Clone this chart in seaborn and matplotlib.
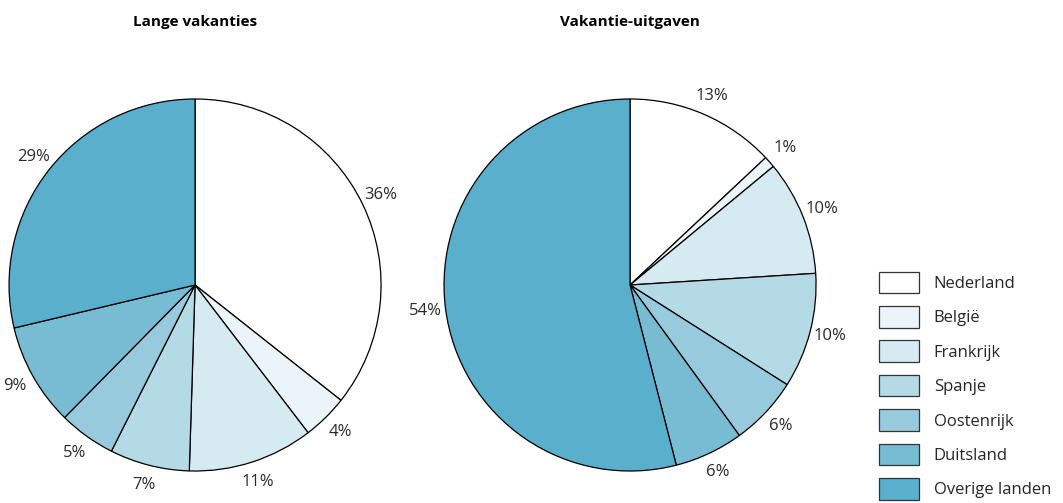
import matplotlib
matplotlib.use("Agg")
import matplotlib.pyplot as plt
import matplotlib.patches as mpatches
import seaborn as sns

landen = ["Nederland", "België", "Frankrijk", "Spanje", "Oostenrijk", "Duitsland", "Overige landen"]
lange_vakanties = [36, 4, 11, 7, 5, 9, 29]
vakantie_uitgaven = [13, 1, 10, 10, 6, 6, 54]
kleuren = ["#ffffff", "#eaf4f9", "#d6eaf1", "#b4dae5", "#98cadd", "#77bcd3", "#5aafcc"]

sns.set_theme(style="white")
plt.rcParams["font.family"] = ["Open Sans", "DejaVu Sans"]

fig = plt.figure(figsize=(10.63, 5.03), dpi=100)


def taart(ax, waarden):
    wedges, texts = ax.pie(
        waarden,
        labels=[f"{v}%" for v in waarden],
        colors=kleuren,
        startangle=90,
        counterclock=False,
        labeldistance=1.11,
        wedgeprops=dict(edgecolor="black", linewidth=0.9),
        textprops=dict(fontsize=12, color="#2a2a2a"),
    )
    for t in texts:
        t.set_ha("center")
    ax.set_xlim(-1, 1)
    ax.set_ylim(-1, 1)
    ax.set_aspect("equal")
    return wedges


ax1 = fig.add_axes([0.0085, 0.0636, 0.35, 0.7396])
taart(ax1, lange_vakanties)
ax2 = fig.add_axes([0.4177, 0.0636, 0.35, 0.7396])
taart(ax2, vakantie_uitgaven)

fig.text(195 / 1063, 1 - 22 / 503, "Lange vakanties", ha="center", va="center",
         fontsize=11, fontweight="bold", color="black")
fig.text(630 / 1063, 1 - 22 / 503, "Vakantie-uitgaven", ha="center", va="center",
         fontsize=11, fontweight="bold", color="black")

handles = [mpatches.Patch(facecolor=c, edgecolor="#333333", linewidth=0.9, label=l)
           for c, l in zip(kleuren, landen)]
fig.legend(handles=handles, loc="upper left", bbox_to_anchor=(877 / 1063, 1 - 270 / 503),
           frameon=False, fontsize=12, handlelength=2.4, handleheight=1.6,
           labelspacing=0.78, handletextpad=0.9, borderaxespad=0, borderpad=0.1)

fig.savefig("out.png", dpi=100)
